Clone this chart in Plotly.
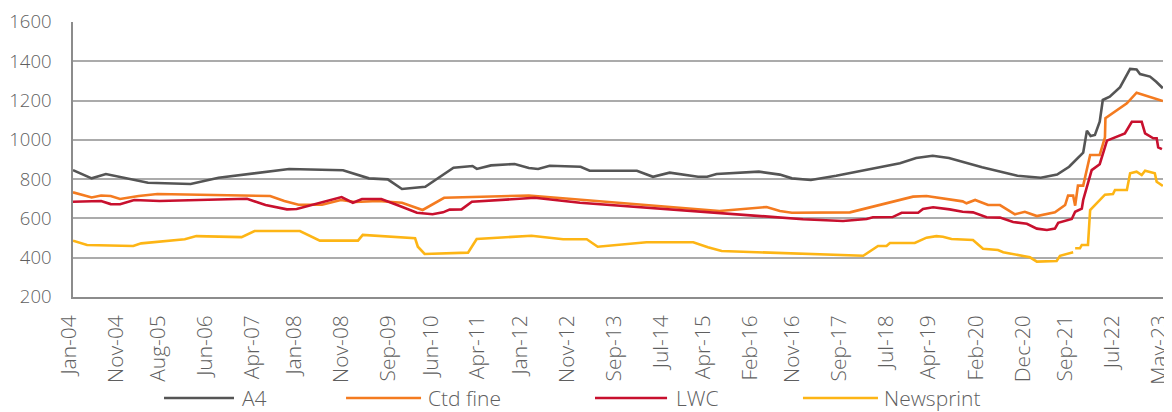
import plotly.graph_objects as go

# ---------------- data ----------------
tick_dates = ["2004-01-01", "2004-11-01", "2005-08-01", "2006-06-01", "2007-04-01",
              "2008-01-01", "2008-11-01", "2009-09-01", "2010-06-01", "2011-04-01",
              "2012-01-01", "2012-11-01", "2013-09-01", "2014-07-01", "2015-04-01",
              "2016-02-01", "2016-11-01", "2017-09-01", "2018-07-01", "2019-04-01",
              "2020-02-01", "2020-12-01", "2021-09-01", "2022-07-01", "2023-05-01"]
tick_labels = ["Jan-04", "Nov-04", "Aug-05", "Jun-06", "Apr-07", "Jan-08", "Nov-08",
               "Sep-09", "Jun-10", "Apr-11", "Jan-12", "Nov-12", "Sep-13", "Jul-14",
               "Apr-15", "Feb-16", "Nov-16", "Sep-17", "Jul-18", "Apr-19", "Feb-20",
               "Dec-20", "Sep-21", "Jul-22", "May-23"]

a4_dates = ["2004-01-01", "2004-05-01", "2004-08-01", "2005-05-01", "2006-02-01",
            "2006-08-01", "2007-11-01", "2008-10-15", "2009-04-01", "2009-08-01",
            "2009-11-01", "2010-04-01", "2010-10-01", "2011-02-01", "2011-03-01",
            "2011-06-01", "2011-11-01", "2012-02-01", "2012-04-01", "2012-06-15",
            "2013-01-01", "2013-03-01", "2014-01-01", "2014-04-15", "2014-08-01",
            "2015-02-01", "2015-04-01", "2015-06-01", "2016-03-01", "2016-07-15",
            "2016-10-01", "2017-02-01", "2017-07-15", "2018-02-15", "2018-09-01",
            "2018-12-15", "2019-04-01", "2019-07-15", "2020-02-15", "2020-10-01",
            "2021-03-01", "2021-06-15", "2021-09-01", "2021-12-01", "2021-12-25",
            "2022-01-18", "2022-02-15", "2022-03-18", "2022-04-07", "2022-05-22",
            "2022-07-28", "2022-10-01", "2022-11-12", "2022-12-04", "2023-02-07",
            "2023-03-19", "2023-05-01"]
a4_values = [846, 804, 826, 782, 775,
             807, 852, 845, 804, 799,
             750, 761, 858, 867, 852,
             870, 877, 857, 852, 868,
             863, 843, 843, 812, 833,
             812, 812, 826, 838, 823,
             804, 796, 817, 852, 881,
             908, 919, 908, 860, 817,
             807, 823, 863, 935, 1047,
             1020, 1025, 1092, 1203, 1220,
             1268, 1361, 1358, 1335, 1322,
             1296, 1263]

ctd_dates = ["2004-01-01", "2004-05-01", "2004-07-01", "2004-09-01", "2004-11-01",
             "2005-03-01", "2005-07-01", "2007-07-01", "2007-10-01", "2008-01-01",
             "2008-06-01", "2008-10-01", "2009-01-01", "2009-06-01", "2009-11-01",
             "2010-03-15", "2010-08-01", "2012-02-01", "2015-06-20", "2016-04-20",
             "2016-07-15", "2016-10-01", "2017-10-12", "2018-11-25", "2019-02-20",
             "2019-07-20", "2019-10-12", "2019-11-06", "2020-01-01", "2020-03-25",
             "2020-06-10", "2020-09-15", "2020-11-18", "2021-02-04", "2021-06-01",
             "2021-08-06", "2021-08-25", "2021-09-27", "2021-10-10", "2021-10-28",
             "2021-12-01", "2022-01-15", "2022-03-18", "2022-04-21", "2022-04-24",
             "2022-09-10", "2022-11-12", "2023-05-01"]
ctd_values = [733, 707, 717, 714, 699,
              714, 724, 714, 689, 670,
              670, 694, 684, 689, 680,
              643, 705, 717, 638, 658,
              638, 629, 631, 711, 714,
              699, 687, 677, 694, 668,
              668, 621, 634, 612, 631,
              668, 716, 716, 665, 767,
              767, 923, 923, 1013, 1110,
              1186, 1240, 1198]

lwc_dates = ["2004-01-01", "2004-07-01", "2004-09-01", "2004-11-01", "2005-02-01",
             "2005-07-15", "2007-02-01", "2007-06-01", "2007-10-18", "2007-12-20",
             "2008-10-06", "2008-12-18", "2009-02-15", "2009-06-20", "2009-10-18",
             "2010-02-06", "2010-05-18", "2010-07-25", "2010-09-06", "2010-11-22",
             "2011-01-28", "2012-03-10", "2012-12-28", "2015-05-07", "2016-07-15",
             "2016-12-12", "2017-08-28", "2018-01-28", "2018-03-10", "2018-07-15",
             "2018-09-12", "2018-12-28", "2019-01-28", "2019-04-04", "2019-07-20",
             "2019-10-12", "2019-12-18", "2020-03-15", "2020-06-10", "2020-09-03",
             "2020-12-01", "2021-02-04", "2021-04-10", "2021-06-01", "2021-06-22",
             "2021-09-18", "2021-10-10", "2021-11-22", "2021-12-01", "2022-01-25",
             "2022-03-18", "2022-05-04", "2022-08-28", "2022-09-18", "2022-10-12",
             "2022-12-15", "2023-01-06", "2023-02-28", "2023-03-22", "2023-04-01",
             "2023-04-25"]
lwc_values = [685, 689, 673, 672, 694,
              689, 700, 668, 646, 648,
              709, 680, 699, 699, 663,
              629, 621, 631, 645, 646,
              685, 705, 680, 629, 607,
              596, 587, 597, 606, 607,
              629, 629, 648, 657, 646,
              634, 631, 606, 604, 582,
              573, 548, 541, 548, 578,
              597, 634, 650, 694, 846,
              876, 996, 1033, 1064, 1092,
              1092, 1033, 1008, 1008, 962,
              953]

news_dates = ["2004-01-01", "2004-04-01", "2005-01-25", "2005-03-18", "2005-12-25",
              "2006-03-10", "2006-12-28", "2007-03-22", "2008-01-10", "2008-05-18",
              "2009-01-20", "2009-02-20", "2010-01-25", "2010-02-12", "2010-03-28",
              "2011-01-03", "2011-02-28", "2012-02-18", "2012-09-10", "2013-02-10",
              "2013-04-22", "2014-03-04", "2015-01-01", "2015-04-06", "2015-07-04",
              "2016-07-15", "2018-01-06", "2018-04-12", "2018-06-06", "2018-06-28",
              "2018-12-06", "2019-02-20", "2019-04-25", "2019-06-06", "2019-08-01",
              "2019-12-18", "2020-02-21", "2020-05-28", "2020-07-01", "2020-12-21",
              "2021-02-04", "2021-06-12", "2021-07-04", "2021-09-27", "2021-10-03",
              "2021-10-10", "2021-11-10", "2021-11-22", "2022-01-01", "2022-01-15",
              "2022-04-21", "2022-06-12", "2022-06-25", "2022-09-10", "2022-09-18",
              "2022-10-01", "2022-11-12", "2022-12-15", "2023-01-06", "2023-03-10",
              "2023-03-22", "2023-05-01"]
news_values = [487, 465, 460, 473, 494,
               510, 505, 536, 536, 487,
               487, 516, 499, 456, 419,
               426, 495, 512, 494, 494,
               456, 479, 479, 453, 434,
               424, 410, 460, 460, 475,
               475, 502, 510, 507, 495,
               490, 446, 439, 428, 402,
               380, 383, 410, 428, None,
               448, 448, 465, 465, 643,
               721, 724, 745, 745, 779,
               830, 838, 821, 843, 830,
               787, 765]

series_names = ["A4", "Ctd fine", "LWC", "Newsprint"]
series_dates = [a4_dates, ctd_dates, lwc_dates, news_dates]
series_values = [a4_values, ctd_values, lwc_values, news_values]

# ---------------- styling ----------------
colors = ["#555555", "#F47B20", "#C8102E", "#FDB515"]
FONT = "Open Sans"
TXT = "#5F5F5F"
# legend layout (paper coordinates): line start, line end, text start
legend_line_x0 = [0.0835, 0.2505, 0.4789, 0.6697]
legend_line_x1 = [0.1477, 0.3193, 0.5450, 0.7385]
legend_text_x = [0.1530, 0.3235, 0.5515, 0.7425]
legend_y = -0.367

fig = go.Figure()
for name, d, v, c in zip(series_names, series_dates, series_values, colors):
    fig.add_trace(go.Scatter(x=d, y=v, name=name, mode="lines",
                             line=dict(color=c, width=2.6),
                             connectgaps=False, showlegend=False))

for i, (name, c) in enumerate(zip(series_names, colors)):
    fig.add_shape(type="line", xref="paper", yref="paper",
                  x0=legend_line_x0[i], x1=legend_line_x1[i],
                  y0=legend_y, y1=legend_y,
                  line=dict(color=c, width=2.6))
    fig.add_annotation(xref="paper", yref="paper", x=legend_text_x[i], y=legend_y,
                       text=name, showarrow=False, xanchor="left", yanchor="middle",
                       font=dict(family=FONT, size=21, color=TXT, weight=300))

# the page body adds an 8px offset; size the figure so it fits the 1172x412 window
fig.update_layout(
    width=1164, height=404,
    margin=dict(l=65, r=9, t=14, b=115),
    paper_bgcolor="white", plot_bgcolor="white",
    font=dict(family=FONT, size=19, color=TXT),
    showlegend=False,
)

fig.update_xaxes(
    type="date",
    range=["2004-01-01", "2023-05-02"],
    tickmode="array", tickvals=tick_dates, ticktext=tick_labels,
    tickangle=-90,
    tickfont=dict(family=FONT, size=21, color=TXT, weight=300),
    showgrid=False,
    showline=True, linecolor="#8C8C8C", linewidth=1.5,
    ticks="", zeroline=False, automargin=False,
    ticklabelstandoff=8, ticklabeloverflow="allow", ticklabelshift=-4,
)
fig.update_yaxes(
    range=[200, 1600], dtick=200, tick0=200,
    tickfont=dict(family=FONT, size=18.5, color=TXT, weight=300),
    showgrid=True, gridcolor="#ABABAB", gridwidth=1.5,
    showline=True, linecolor="#8C8C8C", linewidth=1.5,
    ticks="", ticklabelstandoff=16, zeroline=False, automargin=False,
    ticklabeloverflow="allow",
)

fig.write_html("out.html")
